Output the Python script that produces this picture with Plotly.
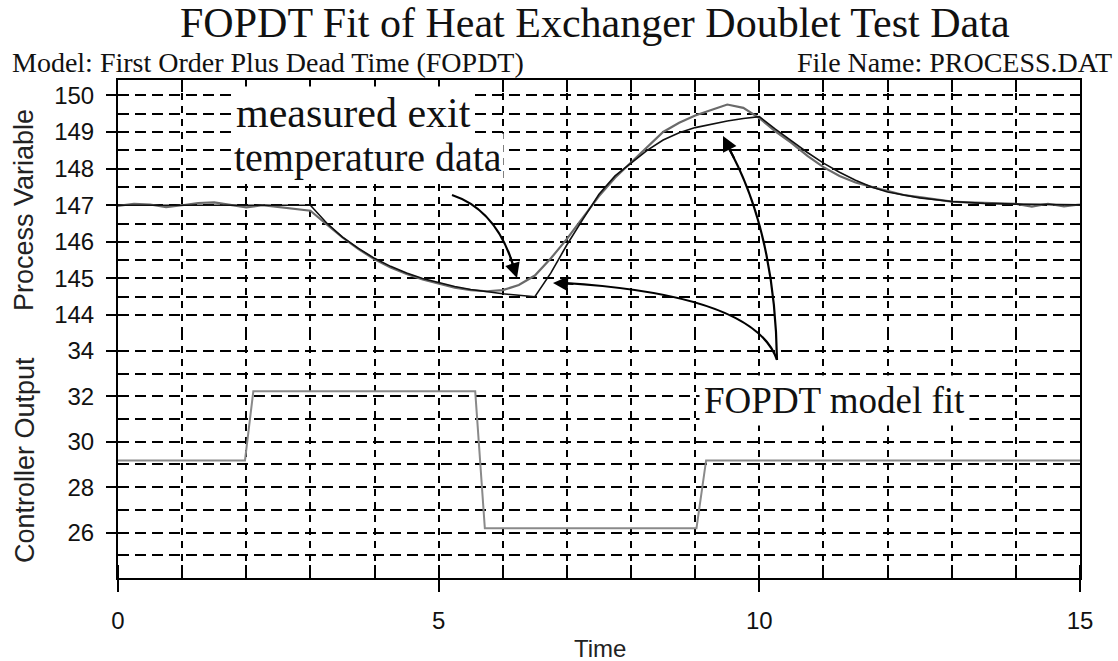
import plotly.graph_objects as go

# ---------------- data ----------------
t_meas = [0.0, 0.25, 0.5, 0.75, 1.0, 1.25, 1.5, 1.75, 2.0, 2.25, 2.5, 2.75,
          3.0, 3.25, 3.5, 3.75, 4.0, 4.25, 4.5, 4.75, 5.0, 5.25, 5.5, 5.75,
          6.0, 6.25, 6.5, 6.75, 7.0, 7.25, 7.5, 7.75, 8.0, 8.25, 8.5, 8.75,
          9.0, 9.25, 9.5, 9.75, 10.0, 10.25, 10.5, 10.75, 11.0, 11.25, 11.5,
          11.75, 12.0, 12.25, 12.5, 12.75, 13.0, 13.25, 13.5, 13.75, 14.0,
          14.25, 14.5, 14.75, 15.0]
pv_meas = [146.98, 147.04, 147.02, 146.95, 147.0, 147.06, 147.08, 147.0, 146.94,
           147.0, 146.95, 146.92, 146.85, 146.48, 146.12, 145.8, 145.52, 145.3,
           145.12, 144.97, 144.85, 144.75, 144.68, 144.65, 144.68, 144.82, 145.08,
           145.55, 146.08, 146.65, 147.25, 147.75, 148.17, 148.6, 149.0, 149.25,
           149.45, 149.6, 149.75, 149.66, 149.38, 149.02, 148.7, 148.35, 148.04,
           147.8, 147.62, 147.5, 147.38, 147.28, 147.22, 147.15, 147.1, 147.08,
           147.06, 147.05, 147.04, 146.96, 147.04, 146.97, 147.02]

t_model = [0.0, 3.0, 3.25, 3.5, 3.75, 4.0, 4.25, 4.5, 4.75, 5.0, 5.25, 5.5, 5.75,
           6.0, 6.25, 6.5, 6.75, 7.0, 7.25, 7.5, 7.75, 8.0, 8.25, 8.5, 8.75, 9.0,
           9.25, 9.5, 9.75, 10.0, 10.25, 10.5, 10.75, 11.0, 11.25, 11.5, 11.75,
           12.0, 12.5, 13.0, 13.5, 14.0, 15.0]
pv_model = [147.0, 147.0, 146.52, 146.13, 145.82, 145.55, 145.33, 145.15, 145.0,
            144.88, 144.78, 144.7, 144.63, 144.58, 144.54, 144.5, 145.15, 145.92,
            146.62, 147.3, 147.8, 148.15, 148.5, 148.78, 148.98, 149.12, 149.22,
            149.3, 149.37, 149.42, 149.08, 148.76, 148.44, 148.15, 147.9, 147.68,
            147.5, 147.36, 147.2, 147.1, 147.05, 147.03, 147.01]

t_co = [0.0, 1.98, 2.11, 5.57, 5.72, 9.02, 9.17, 15.0]
co = [29.18, 29.18, 32.22, 32.22, 26.19, 26.19, 29.18, 29.18]

x_ticks = [0, 5, 10, 15]
pv_ticks = [144, 145, 146, 147, 148, 149, 150]
co_ticks = [26, 28, 30, 32, 34]

# ---------------- layout helpers ----------------
W, H = 1118, 661
L, R, T, B = 118, 38, 80, 83
PW, PH = W - L - R, H - T - B


def px(x):
    return (x - L) / PW


def py(y):
    return (H - B - y) / PH


def P(x, y):
    return f"{px(x):.5f},{py(y):.5f}"


split = py(333)

SANS = "Liberation Sans, Arial, sans-serif"
SERIF = "Liberation Serif, Times New Roman, serif"
INK = "#111111"

fig = go.Figure()
fig.add_trace(go.Scatter(x=t_co, y=co, xaxis="x", yaxis="y", mode="lines",
                         line=dict(color="#8a8a8a", width=2), showlegend=False))
fig.add_trace(go.Scatter(x=t_meas, y=pv_meas, xaxis="x2", yaxis="y2", mode="lines",
                         line=dict(color="#6a6a6a", width=2.2), showlegend=False))
fig.add_trace(go.Scatter(x=t_model, y=pv_model, xaxis="x2", yaxis="y2", mode="lines",
                         line=dict(color="#111111", width=1.6), showlegend=False))

vgrid = dict(showgrid=True, gridcolor="black", gridwidth=1.8, griddash="7px,6px")
hgrid = dict(showgrid=True, gridcolor="black", gridwidth=1.8, griddash="11px,6px")

fig.update_layout(
    width=W, height=H, autosize=False,
    margin=dict(l=L, r=R, t=T, b=B, pad=0),
    paper_bgcolor="white", plot_bgcolor="white",
    xaxis=dict(domain=[0, 1], anchor="y", range=[0, 15], side="bottom",
               showline=True, linecolor="black", linewidth=2, zeroline=False,
               tickmode="array", tickvals=x_ticks, ticktext=[str(v) for v in x_ticks],
               ticks="outside", ticklen=12, tickwidth=1.8, tickcolor="black",
               tickfont=dict(family=SANS, size=24, color=INK), ticklabelstandoff=8,
               minor=dict(dtick=1, tick0=0, ticks="inside", ticklen=13, tickwidth=1.8,
                          tickcolor="black", **vgrid),
               **vgrid),
    xaxis2=dict(domain=[0, 1], anchor="y2", matches="x", range=[0, 15], side="top",
                showline=True, linecolor="black", linewidth=2, zeroline=False,
                tickmode="array", tickvals=x_ticks, showticklabels=False,
                ticks="inside", ticklen=12, tickwidth=1.8, tickcolor="black",
                minor=dict(dtick=1, tick0=0, ticks="inside", ticklen=12, tickwidth=1.8,
                           tickcolor="black", **vgrid),
                **vgrid),
    yaxis=dict(domain=[0, split], anchor="x", range=[24, 34.79],
               showline=True, mirror=True, linecolor="black", linewidth=2, zeroline=False,
               tickmode="array", tickvals=co_ticks, ticktext=[str(v) for v in co_ticks],
               ticks="outside", ticklen=10, tickwidth=1.8, tickcolor="black",
               tickfont=dict(family=SANS, size=24, color=INK), ticklabelstandoff=7,
               minor=dict(dtick=1, tick0=0, **hgrid),
               **hgrid),
    yaxis2=dict(domain=[split, 1], anchor="x2", range=[143.51, 150.42],
                showline=True, mirror=True, linecolor="black", linewidth=2, zeroline=False,
                tickmode="array", tickvals=pv_ticks, ticktext=[str(v) for v in pv_ticks],
                ticks="outside", ticklen=10, tickwidth=1.8, tickcolor="black",
                tickfont=dict(family=SANS, size=24, color=INK), ticklabelstandoff=7,
                minor=dict(dtick=0.5, tick0=0, **hgrid),
                **hgrid),
)

annotations = [
    dict(text="FOPDT Fit of Heat Exchanger Doublet Test Data", x=px(595), y=py(23),
         xanchor="center", yanchor="middle", font=dict(family=SERIF, size=42, color=INK)),
    dict(text="Model: First Order Plus Dead Time (FOPDT)", x=px(10), y=py(62),
         xanchor="left", yanchor="middle", font=dict(family=SERIF, size=28, color=INK)),
    dict(text="File Name: PROCESS.DAT", x=px(1114), y=py(62),
         xanchor="right", yanchor="middle", font=dict(family=SERIF, size=28, color=INK)),
    dict(text="measured exit", x=px(232), y=py(113), xanchor="left", yanchor="middle",
         bgcolor="white", borderpad=3, font=dict(family=SERIF, size=42, color=INK)),
    dict(text="temperature data", x=px(232), y=py(158), xanchor="left", yanchor="middle",
         bgcolor="white", borderpad=1, font=dict(family=SERIF, size=40, color=INK)),
    dict(text="FOPDT model fit", x=px(699), y=py(400), xanchor="left", yanchor="middle",
         bgcolor="white", borderpad=4, font=dict(family=SERIF, size=37, color=INK)),
    dict(text="Process Variable", x=px(24), y=py(210), textangle=-90,
         xanchor="center", yanchor="middle", font=dict(family=SANS, size=27, color="#222")),
    dict(text="Controller Output", x=px(25), y=py(460), textangle=-90,
         xanchor="center", yanchor="middle", font=dict(family=SANS, size=27, color="#222")),
    dict(text="Time", x=px(600), y=py(648), xanchor="center", yanchor="middle",
         font=dict(family=SANS, size=24, color="#222")),
]
for a in annotations:
    a.update(xref="paper", yref="paper", showarrow=False)

# arrowheads
for (tx, ty, ax, ay) in [(517, 278, -7, -22), (723, 136, 12, 24), (553, 283, 22, 1)]:
    annotations.append(dict(text="", x=px(tx), y=py(ty), xref="paper", yref="paper",
                            showarrow=True, arrowhead=2, arrowsize=1.5, arrowwidth=2,
                            arrowcolor="black", ax=ax, ay=ay, standoff=0, startstandoff=0))
fig.update_layout(annotations=annotations)

shapes = [
    dict(type="path", path=f"M {P(452,195)} Q {P(497,210)} {P(514,268)}"),
    dict(type="path", path=f"M {P(777,360)} Q {P(775,230)} {P(727,145)}"),
    dict(type="path", path=f"M {P(777,360)} Q {P(755,295)} {P(565,283)}"),
]
for s in shapes:
    s.update(xref="paper", yref="paper", line=dict(color="black", width=2.2),
             fillcolor="rgba(0,0,0,0)")
fig.update_layout(shapes=shapes)

fig.write_html("out.html", config={"displayModeBar": False},
               post_script="document.body.style.margin='0';")
